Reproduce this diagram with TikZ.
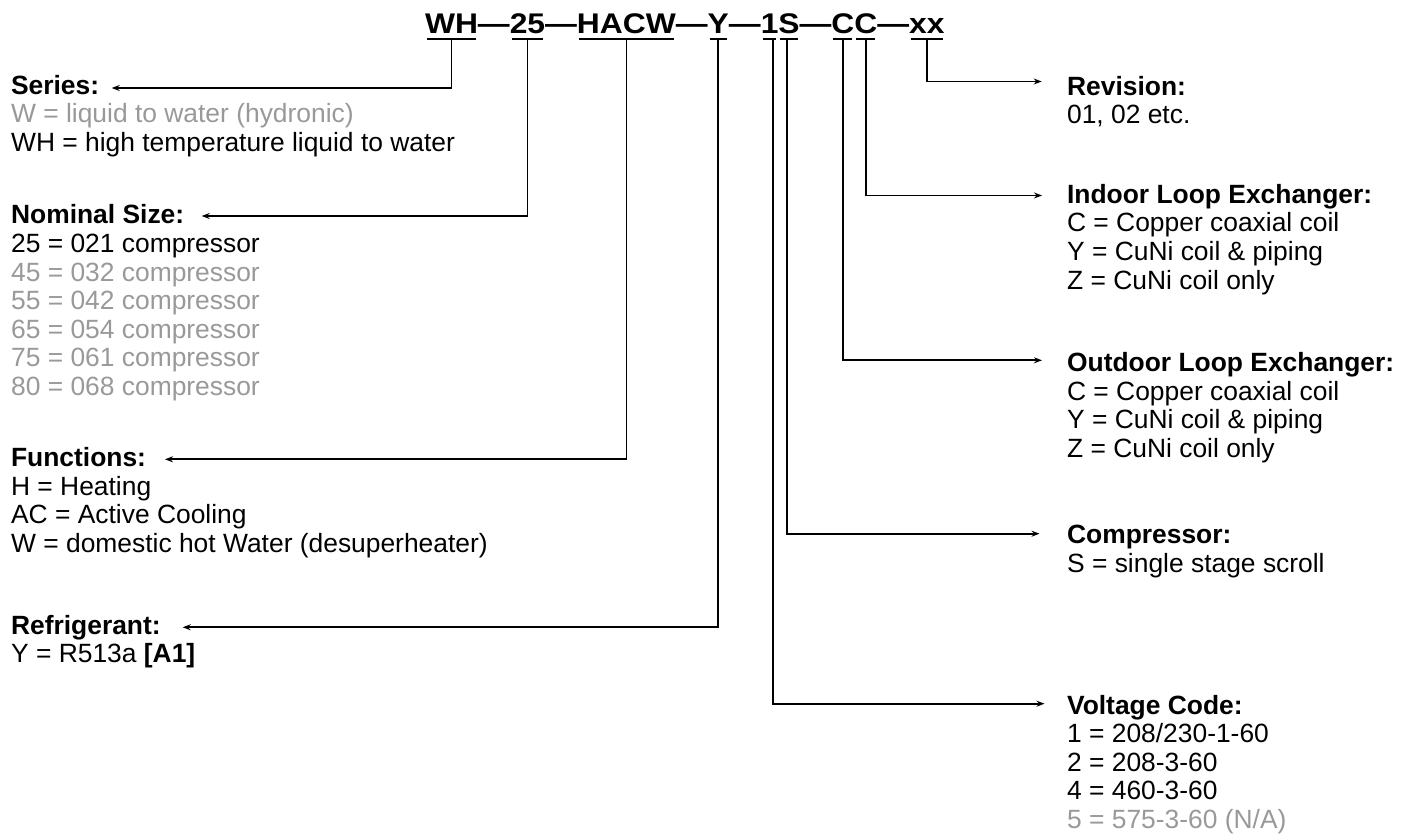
\documentclass[tikz,border=0pt]{standalone}
\usepackage{fontspec}
\setmainfont{Liberation Sans}
\newfontfamily\codefont[FakeStretch=1.12]{Liberation Sans}
\usetikzlibrary{arrows.meta,positioning}
\definecolor{codegray}{RGB}{153,153,153}

\begin{document}
\begin{tikzpicture}[x=0.5pt, y=-0.5pt,
    code/.style={inner sep=0pt, outer sep=0pt, text height=10.5pt, text depth=3pt, font=\codefont\bfseries\fontsize{14.2}{15}\selectfont},
    block/.style={inner sep=0pt, anchor=base west, align=left, font=\fontsize{13.2}{14.3}\selectfont},
    tick/.style={line width=0.9pt},
    arrow/.style={-{Stealth[length=4pt, width=3pt]}, line width=0.9pt}
]
\useasboundingbox (0,0) rectangle (1413,839);

% model number
\node[code, anchor=base west] (cWH) at (425,33.3) {WH};
\node[code, right=0pt of cWH] (d1) {—};
\node[code, right=0pt of d1] (c25) {25};
\node[code, right=0pt of c25] (d2) {—};
\node[code, right=0pt of d2] (cHACW) {HACW};
\node[code, right=0pt of cHACW] (d3) {—};
\node[code, right=0pt of d3] (cY) {Y};
\node[code, right=0pt of cY] (d4) {—};
\node[code, right=0pt of d4] (c1) {1};
\node[code, right=0pt of c1] (cS) {S};
\node[code, right=0pt of cS] (d5) {—};
\node[code, right=0pt of d5] (cC1) {C};
\node[code, right=0pt of cC1] (cC2) {C};
\node[code, right=0pt of cC2] (d6) {—};
\node[code, right=0pt of d6] (cxx) {xx};

\foreach \n in {cWH,c25,cHACW,cY,c1,cS,cC1,cC2,cxx}
    \draw[tick] ([xshift=1pt]\n.south west) -- ([xshift=-1pt]\n.south east);

% left column (placed by the baseline of the last line)
\node[block] (bSeries) at (10.7,151.5) {\textbf{Series:}\\\textcolor{codegray}{W = liquid to water (hydronic)}\\WH = high temperature liquid to water};
\node[block] (bSize) at (10.7,395.5) {\textbf{Nominal Size:}\\25 = 021 compressor\\\textcolor{codegray}{45 = 032 compressor}\\\textcolor{codegray}{55 = 042 compressor}\\\textcolor{codegray}{65 = 054 compressor}\\\textcolor{codegray}{75 = 061 compressor}\\\textcolor{codegray}{80 = 068 compressor}};
\node[block] (bFunc) at (10.7,552.5) {\textbf{Functions:}\\H = Heating\\AC = Active Cooling\\W = domestic hot Water (desuperheater)};
\node[block] (bRefr) at (10.7,662.8) {\textbf{Refrigerant:}\\Y = R513a \textbf{[A1]}};

% right column
\node[block] (bRev) at (1066.7,123.8) {\textbf{Revision:}\\01, 02 etc.};
\node[block] (bIndoor) at (1066.7,289.2) {\textbf{Indoor Loop Exchanger:}\\C = Copper coaxial coil\\Y = CuNi coil \& piping\\Z = CuNi coil only};
\node[block] (bOutdoor) at (1066.7,457.3) {\textbf{Outdoor Loop Exchanger:}\\C = Copper coaxial coil\\Y = CuNi coil \& piping\\Z = CuNi coil only};
\node[block] (bComp) at (1066.7,572.5) {\textbf{Compressor:}\\S = single stage scroll};
\node[block] (bVolt) at (1066.7,828.5) {\textbf{Voltage Code:}\\1 = 208/230-1-60\\2 = 208-3-60\\4 = 460-3-60\\\textcolor{codegray}{5 = 575-3-60 (N/A)}};

% arrow ends
\coordinate (aSeries) at (111.7,88);
\coordinate (aSize) at (201.7,216);
\coordinate (aFunc) at (165,459.3);
\coordinate (aRefr) at (182.7,627.3);
\coordinate (aRev) at (1041.7,81.5);
\coordinate (aIndoor) at (1042,195.5);
\coordinate (aOutdoor) at (1042,360.3);
\coordinate (aComp) at (1039.5,533.7);
\coordinate (aVolt) at (1044.5,703.7);

\draw[arrow] (cWH.south) |- (aSeries);
\draw[arrow] (c25.south) |- (aSize);
\draw[arrow] (cHACW.south) |- (aFunc);
\draw[arrow] (cY.south) |- (aRefr);
\draw[arrow] ([xshift=1.5pt]c1.south) |- (aVolt);
\draw[arrow] ([xshift=-1pt]cS.south) |- (aComp);
\draw[arrow] (cC1.south) |- (aOutdoor);
\draw[arrow] (cC2.south) |- (aIndoor);
\draw[arrow] (cxx.south) |- (aRev);

\end{tikzpicture}
\end{document}
